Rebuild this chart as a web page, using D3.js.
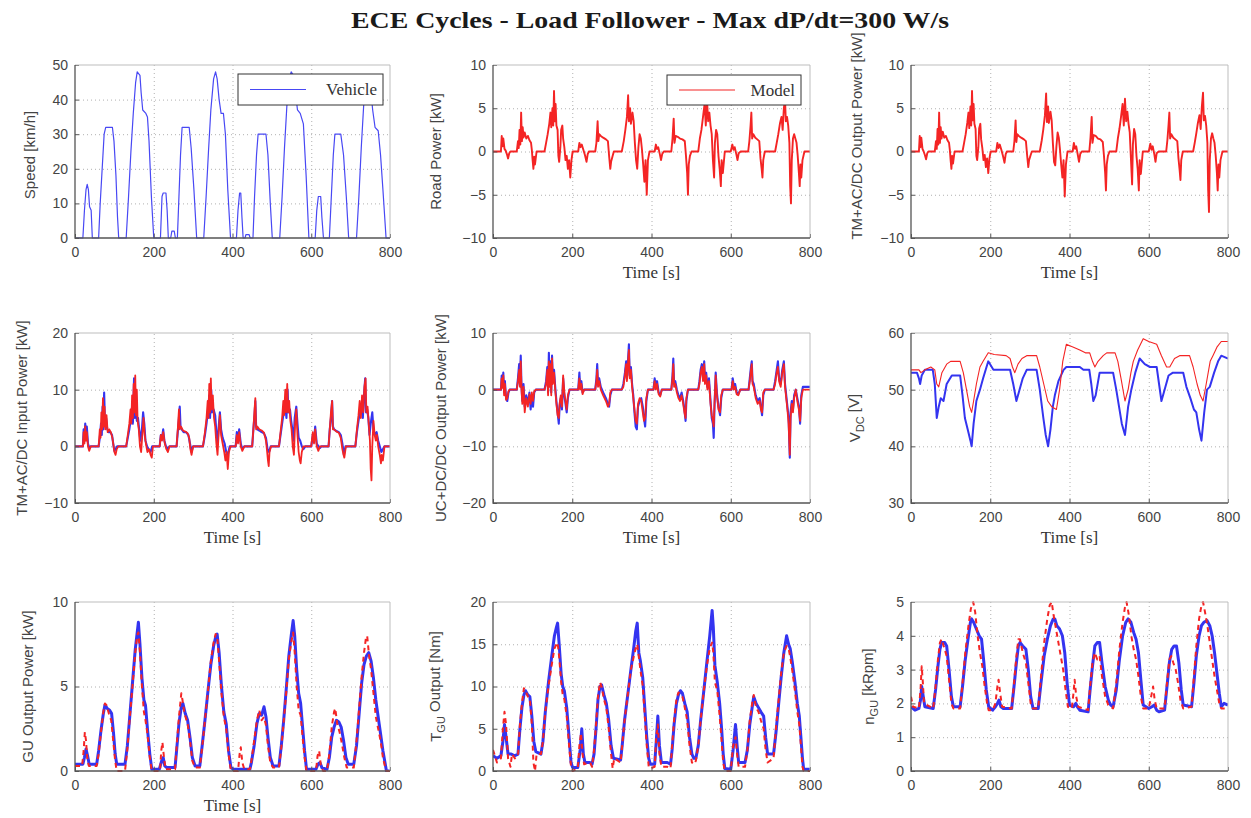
<!DOCTYPE html>
<html>
<head>
<meta charset="utf-8">
<title>ECE Cycles - Load Follower</title>
<script src="https://cdn.jsdelivr.net/npm/d3@7"></script>
<style>
body { margin: 0; background: #fff; }
.tick text { font-family: "Liberation Sans", Arial, sans-serif; font-size: 14px; fill: #444; }
.tick line { stroke: #555; }
.domain { display: none; }
.grid line { stroke: #b0b0b0; stroke-dasharray: 1,3; }
.ylab { font-family: "Liberation Sans", Arial, sans-serif; font-size: 15px; fill: #444; text-anchor: middle; }
.xlab { font-family: "Liberation Serif", "Times New Roman", serif; font-size: 17px; fill: #333; text-anchor: middle; }
.title { font-family: "Liberation Serif", "Times New Roman", serif; font-size: 23px; font-weight: bold; fill: #1a1a1a; text-anchor: middle; }
.legtext { font-family: "Liberation Serif", "Times New Roman", serif; font-size: 17px; fill: #333; }
.trace { fill: none; stroke-linejoin: round; }
</style>
</head>
<body>
<svg id="chart" width="1251" height="818"></svg>
<script>
var BLUE = "#3434f0";
var RED = "#f42424";

var timeTicks = [0, 200, 400, 600, 800];

// vehicle speed [km/h]
var speedVehicle = [[0,0],[20,0],[24,8],[28,14],[31,15.5],[34,14],[37,9],[41,8],[44,0],[60,0],[64,10],[69,20],[74,30],[78,32],[95,32],[99,28],[104,18],[108,6],[111,0],[130,0],[136,12],[142,25],[148,36],[154,45],[158,48],[165,47],[168,42],[172,37],[180,36],[184,35],[188,28],[194,12],[200,0],[217,0],[221,12],[224,13],[231,13],[234,8],[237,0],[243,0],[246,2],[252,2],[255,0],[260,0],[264,12],[268,24],[272,32],[290,32],[295,26],[302,14],[309,0],[327,0],[333,12],[339,25],[345,37],[352,46],[357,48],[361,46],[366,40],[371,36],[377,36],[382,30],[388,14],[395,0],[410,0],[414,8],[418,13],[421,13],[424,6],[427,0],[432,0],[434,1],[442,1],[445,0],[452,0],[456,12],[461,24],[465,30],[485,30],[490,24],[496,10],[501,0],[520,0],[526,12],[532,26],[538,38],[544,46],[549,48],[555,47],[560,42],[565,37],[572,36],[580,33],[587,18],[594,0],[610,0],[614,8],[618,12],[624,12],[627,6],[631,0],[646,0],[651,12],[656,24],[660,30],[675,30],[682,24],[689,12],[695,0],[715,0],[721,12],[727,26],[733,38],[739,45],[745,47],[750,44],[756,37],[762,32],[770,31],[776,24],[782,14],[790,0],[800,0]];

// road power [kW] (model)
var roadModel = [[0,0],[20,0],[22,1.8],[24,0.6],[26,1.5],[29,0.3],[32,0.1],[35,-0.3],[38,-0.8],[41,-0.2],[44,0],[60,0],[63,1.2],[65,0.4],[67,2.5],[69,0.8],[71,4.5],[73,1.2],[75,2.8],[77,1.6],[80,2.2],[84,1.5],[88,1.8],[92,1.3],[96,1.0],[98,0.2],[100,-1.0],[102,-2.0],[104,-0.6],[106,-1.5],[110,0],[130,0],[134,1.0],[138,2.0],[142,3.2],[145,4.5],[147,2.8],[150,5.0],[152,3.0],[154,7.0],[156,3.5],[158,5.5],[160,3.0],[163,2.5],[165,-0.5],[167,-1.2],[170,0.5],[172,2.5],[175,3.0],[177,1.5],[180,0.5],[183,-1.0],[186,-0.5],[189,-2.0],[192,-1.0],[195,-3.0],[198,-1.0],[201,0],[215,0],[218,1.0],[221,0.5],[224,0.8],[228,0.2],[232,-0.4],[236,-1.2],[239,-0.3],[242,0],[258,0],[261,1.0],[264,3.5],[266,1.2],[268,2.0],[272,1.8],[278,1.6],[285,1.4],[290,1.2],[293,-0.5],[296,-2.0],[298,-1.2],[302,-0.5],[305,0],[325,0],[330,1.2],[334,2.5],[338,4.0],[341,6.5],[343,3.5],[346,5.0],[348,3.2],[352,4.5],[355,3.5],[358,1.0],[361,-1.0],[364,-2.0],[367,0.5],[370,2.0],[373,1.5],[376,0.2],[379,-1.5],[382,-3.5],[385,-1.0],[388,-5.0],[391,-1.0],[395,0],[408,0],[411,0.8],[414,0.3],[417,0.5],[421,-0.3],[424,-1.0],[427,-0.3],[431,0],[450,0],[453,1.5],[456,3.8],[458,1.0],[461,1.8],[466,1.7],[472,1.5],[478,1.4],[484,1.2],[487,-0.5],[490,-2.5],[492,-5.0],[494,-1.5],[497,-0.5],[501,0],[518,0],[522,1.5],[526,2.5],[530,4.0],[534,5.5],[537,3.0],[540,6.0],[543,3.5],[546,4.5],[549,3.0],[552,2.0],[555,-1.0],[558,-3.0],[560,1.0],[563,2.5],[566,2.0],[569,-0.5],[572,-2.0],[575,-4.0],[577,-1.0],[580,-2.5],[585,0],[600,0],[604,0.8],[607,0.2],[610,0.5],[614,-0.3],[617,-1.0],[620,-0.2],[625,0],[644,0],[647,1.2],[650,3.0],[652,4.5],[654,1.5],[657,2.0],[662,1.6],[667,1.4],[672,1.2],[675,-0.8],[678,-2.0],[680,-3.0],[682,-1.0],[686,0],[712,0],[716,1.0],[720,2.0],[724,3.2],[728,4.0],[731,2.5],[734,5.0],[737,6.0],[739,3.5],[742,4.0],[745,3.0],[748,1.0],[750,-4.0],[752,-6.0],[754,-1.0],[757,1.5],[760,2.0],[763,1.5],[766,1.0],[769,-0.5],[772,-2.5],[774,-4.0],[776,-1.5],[778,-3.0],[781,-1.0],[786,0],[800,0]];

// TM + AC/DC output power [kW] (model)
var tmOutModel = [[0,0],[20,0],[22,1.8],[24,0.5],[26,1.6],[29,0.3],[32,0],[35,-0.4],[38,-0.9],[41,-0.2],[44,0],[60,0],[63,1.2],[65,0.3],[67,2.6],[69,0.8],[71,4.5],[73,1.0],[75,2.8],[77,1.5],[80,2.3],[84,1.6],[88,1.8],[92,1.3],[96,1.0],[98,0.2],[100,-1.0],[102,-2.0],[104,-0.5],[106,-1.4],[110,0],[130,0],[134,1.0],[138,2.0],[142,3.3],[145,4.5],[147,2.7],[150,5.2],[152,3.0],[154,7.0],[156,3.6],[158,5.5],[160,3.2],[163,2.6],[165,-0.5],[167,-1.0],[170,0.5],[172,2.7],[175,3.2],[177,1.4],[180,0.4],[183,-1.0],[186,-0.4],[189,-1.8],[192,-0.8],[195,-2.5],[198,-0.8],[201,0],[215,0],[218,1.0],[221,0.4],[224,0.8],[228,0.2],[232,-0.5],[236,-1.3],[239,-0.3],[242,0],[258,0],[261,1.2],[264,3.6],[266,1.1],[268,2.0],[272,1.8],[278,1.6],[285,1.4],[290,1.2],[293,-0.4],[296,-1.8],[298,-1.0],[302,-0.4],[305,0],[325,0],[330,1.3],[334,2.6],[338,4.2],[341,6.7],[343,3.4],[346,5.2],[348,3.3],[352,4.6],[355,3.6],[358,1.0],[361,-1.2],[364,-1.6],[367,0.6],[370,2.2],[373,1.6],[376,0.2],[379,-1.5],[382,-3.0],[385,-1.0],[388,-5.2],[391,-1.5],[395,0],[408,0],[411,1.0],[414,0.3],[417,0.6],[421,-0.4],[424,-1.2],[427,-0.3],[431,0],[450,0],[453,1.6],[456,4.0],[458,1.0],[461,1.9],[466,1.8],[472,1.5],[478,1.4],[484,1.1],[487,-0.5],[490,-2.5],[492,-4.5],[494,-1.5],[497,-0.5],[501,0],[518,0],[522,1.5],[526,2.6],[530,4.0],[534,5.5],[537,3.0],[540,6.1],[543,3.5],[546,4.6],[549,3.2],[552,2.2],[555,-0.8],[558,-3.8],[560,0.8],[563,2.6],[566,2.0],[569,-0.5],[572,-2.0],[575,-4.5],[577,-1.0],[580,-2.6],[585,0],[600,0],[604,0.9],[607,0.2],[610,0.6],[614,-0.3],[617,-1.2],[620,-0.2],[625,0],[644,0],[647,1.3],[650,3.1],[652,4.5],[654,1.5],[657,2.0],[662,1.6],[667,1.4],[672,1.2],[675,-0.8],[678,-2.2],[680,-3.3],[682,-1.0],[686,0],[712,0],[716,1.0],[720,2.1],[724,3.3],[728,4.2],[731,2.6],[734,5.2],[737,6.8],[739,3.6],[742,4.1],[745,3.0],[748,1.0],[750,-4.5],[752,-7.0],[754,-1.0],[757,1.5],[760,2.1],[763,1.5],[766,1.0],[769,-0.5],[772,-2.5],[774,-4.5],[776,-1.5],[778,-3.0],[781,-1.0],[786,0],[800,0]];

// TM + AC/DC input power [kW]
var tmInVehicle = [[0,0],[20,0],[22,3.0],[24,1.0],[26,4.0],[28,2.0],[30,3.5],[33,0.5],[36,-0.3],[40,0],[60,0],[63,1.5],[66,4.0],[68,2.0],[70,7.0],[72,3.0],[74,9.5],[76,4.5],[79,5.0],[82,3.0],[86,2.5],[90,2.5],[94,2.0],[97,0.5],[100,-0.8],[103,-0.5],[107,0],[130,0],[134,1.5],[138,3.0],[142,5.0],[145,7.0],[147,4.0],[150,12.0],[152,5.0],[155,9.0],[157,4.5],[160,5.0],[163,3.0],[166,1.0],[170,3.0],[173,6.0],[176,4.0],[179,1.0],[183,0],[187,-0.5],[192,-1.0],[196,0],[215,0],[218,2.0],[221,1.5],[224,3.0],[227,1.0],[231,0],[235,-0.5],[240,0],[258,0],[261,2.5],[264,5.0],[266,7.0],[268,3.5],[271,3.0],[276,2.5],[282,2.5],[288,2.0],[292,0.5],[296,-1.0],[300,0],[325,0],[330,2.0],[334,4.0],[338,6.5],[341,9.0],[343,5.0],[346,10.0],[348,6.0],[352,6.5],[356,5.5],[359,2.5],[362,0.5],[365,3.5],[368,6.0],[371,3.0],[375,1.5],[380,0.5],[384,-1.0],[388,-1.5],[393,0],[408,0],[411,2.5],[414,1.0],[417,3.0],[421,0.5],[425,-0.5],[430,0],[450,0],[453,3.0],[456,5.5],[458,8.0],[460,3.5],[463,3.0],[468,2.8],[474,2.5],[480,2.3],[485,1.5],[489,-0.5],[493,-1.0],[497,0],[518,0],[522,2.0],[526,4.0],[530,6.0],[534,7.5],[537,5.0],[540,10.0],[542,6.0],[546,6.5],[549,4.5],[552,3.0],[555,1.0],[558,5.0],[562,7.0],[565,4.0],[568,1.5],[572,1.0],[576,0],[580,-0.5],[585,0],[600,0],[604,2.0],[607,1.0],[610,3.5],[614,0.5],[618,0],[622,-0.3],[626,0],[644,0],[647,3.0],[650,5.0],[653,8.0],[655,3.5],[658,3.0],[664,2.7],[670,2.5],[675,2.0],[679,0.5],[683,-1.5],[687,0],[712,0],[716,2.5],[720,4.5],[724,6.5],[728,7.5],[731,5.0],[734,9.0],[737,12.0],[739,6.0],[742,6.5],[745,5.0],[748,2.0],[751,4.0],[755,6.0],[758,3.0],[762,2.0],[766,2.5],[770,1.0],[774,0],[778,-1.0],[782,-0.5],[786,0],[800,0]];
var tmInModel = [[0,0],[20,0],[22,2.5],[24,0.5],[26,3.5],[28,1.0],[30,2.5],[33,0],[36,-0.8],[40,0],[60,0],[63,3.0],[65,1.5],[67,6.0],[69,3.0],[71,8.5],[73,3.5],[75,7.0],[77,3.0],[80,5.5],[83,2.5],[87,3.0],[91,2.5],[95,1.5],[98,0],[100,-1.0],[103,-1.5],[106,-0.5],[110,0],[130,0],[134,2.0],[138,4.0],[141,6.5],[143,4.0],[145,9.0],[147,5.0],[149,11.0],[151,6.0],[153,12.5],[155,5.5],[157,10.0],[159,4.5],[162,3.0],[165,0],[168,-1.0],[171,2.0],[174,5.0],[177,2.0],[180,0.5],[184,-1.0],[188,-0.5],[192,-1.5],[195,-2.0],[198,0],[215,0],[218,2.0],[221,1.0],[224,2.5],[228,0.5],[232,-0.5],[236,-1.0],[240,0],[258,0],[261,3.0],[264,6.5],[266,3.0],[269,3.5],[274,2.8],[280,2.6],[286,2.3],[290,1.5],[293,-0.5],[296,-1.5],[300,0],[325,0],[330,2.5],[334,5.0],[337,8.0],[339,5.0],[341,11.0],[343,6.0],[345,12.0],[347,6.5],[350,9.0],[353,5.0],[356,3.5],[359,0.5],[362,-1.5],[365,2.5],[368,5.5],[371,2.0],[375,0.5],[379,-1.0],[382,-2.5],[385,-1.0],[388,-4.0],[391,-1.0],[395,0],[408,0],[411,2.0],[414,0.5],[417,2.5],[421,0],[425,-0.8],[430,0],[450,0],[453,3.0],[456,6.5],[458,8.5],[460,3.0],[463,3.5],[468,3.0],[474,2.8],[480,2.4],[485,1.0],[488,-1.0],[490,-2.5],[492,-3.5],[494,-1.0],[498,0],[518,0],[522,2.5],[526,5.0],[529,8.0],[531,5.5],[534,10.0],[536,6.0],[539,11.0],[541,6.0],[544,8.0],[547,4.5],[550,3.0],[553,0],[556,-1.5],[559,4.0],[562,6.5],[565,2.0],[568,-1.0],[571,-2.5],[573,-3.0],[576,-1.0],[580,0],[600,0],[604,2.5],[607,0.5],[610,3.0],[614,0],[618,-0.8],[622,0],[644,0],[647,3.0],[650,6.0],[653,8.0],[655,3.0],[658,3.0],[664,2.6],[670,2.4],[675,1.5],[679,-0.5],[682,-1.5],[684,-2.0],[688,0],[712,0],[716,3.0],[720,5.5],[723,8.0],[726,5.0],[729,9.0],[732,6.0],[735,10.5],[738,12.0],[740,6.0],[743,7.0],[746,4.0],[749,1.0],[751,-4.0],[753,-6.0],[755,0],[758,4.5],[761,2.0],[764,1.0],[767,2.0],[770,0],[774,-1.5],[777,-3.0],[779,-1.5],[782,-2.5],[786,0],[800,0]];

// UC + DC/DC output power [kW]
var ucOutVehicle = [[0,0],[20,0],[22,2.5],[24,0.5],[26,3.0],[28,-0.5],[30,1.5],[33,-1.5],[36,-2.0],[39,-0.5],[42,0],[60,0],[63,2.0],[66,4.5],[68,1.0],[70,6.0],[72,0.5],[74,-2.0],[77,1.0],[80,-3.0],[84,-1.0],[88,-2.5],[92,-0.5],[95,-3.5],[98,-1.0],[101,-3.0],[104,-0.5],[108,0],[130,0],[134,1.5],[137,4.0],[139,-0.5],[141,6.5],[143,1.0],[145,5.0],[147,-0.5],[149,6.0],[151,2.0],[154,3.5],[157,0.5],[160,-2.0],[163,-4.0],[166,-6.0],[168,-3.0],[171,-1.5],[174,-3.5],[177,2.0],[180,-1.0],[183,-2.5],[186,-4.0],[189,-1.5],[193,0],[215,0],[218,3.0],[220,0.5],[223,1.5],[226,-0.5],[230,0],[258,0],[261,2.0],[263,4.5],[265,1.0],[268,2.0],[272,0.5],[278,-0.5],[285,-1.5],[290,-2.5],[293,-3.0],[296,-1.0],[300,0],[325,0],[329,1.0],[333,3.0],[336,5.0],[338,2.0],[341,5.5],[343,8.0],[345,2.5],[348,4.0],[351,1.0],[354,-1.0],[357,-4.0],[360,-6.5],[363,-7.0],[366,-3.0],[370,-2.0],[374,-1.5],[378,-3.0],[381,-5.0],[384,-6.5],[387,-2.0],[391,0],[405,0],[408,2.0],[411,0.5],[414,1.5],[418,-0.5],[422,-1.0],[426,0],[450,0],[453,2.5],[455,5.5],[457,1.0],[460,1.5],[464,0],[468,-1.0],[472,-1.5],[476,-0.5],[480,-2.0],[483,-3.5],[486,-5.5],[488,-2.0],[492,0],[518,0],[521,1.5],[524,3.5],[527,4.5],[530,2.0],[533,5.0],[535,1.5],[538,3.0],[541,0.5],[545,2.0],[549,-2.0],[552,-5.0],[555,-6.0],[557,-8.5],[559,-3.0],[562,3.0],[565,-0.5],[569,-3.0],[573,-4.5],[576,-1.5],[580,0],[602,0],[605,2.0],[608,0.5],[611,1.0],[615,-0.5],[619,-0.8],[624,0],[645,0],[648,2.0],[651,4.0],[653,5.0],[655,1.5],[658,1.0],[663,-1.0],[668,-2.0],[673,-1.5],[676,-3.0],[679,-4.5],[682,-1.0],[686,0],[708,0],[712,1.5],[716,3.5],[719,5.0],[722,2.0],[726,1.0],[730,3.5],[734,5.0],[737,1.0],[740,-1.0],[743,-3.0],[746,-5.0],[749,-12.0],[751,-4.0],[754,-2.0],[757,-3.5],[760,-1.0],[764,0],[768,-1.5],[772,-3.0],[775,-6.0],[778,-1.0],[782,0.5],[790,0.5],[800,0.5]];
var ucOutModel = [[0,0],[20,0],[22,2.0],[24,0.3],[26,2.5],[28,-1.0],[30,1.0],[33,-1.8],[36,-1.5],[39,-0.3],[42,0],[60,0],[63,1.5],[66,3.5],[68,0.5],[70,5.0],[72,0],[74,-2.5],[77,0.5],[80,-4.0],[84,-1.5],[88,-3.0],[92,-0.8],[95,-2.5],[98,-0.5],[101,-2.0],[104,-0.3],[108,0],[130,0],[134,1.0],[137,3.5],[139,-1.0],[141,5.0],[143,0.5],[145,4.5],[147,-1.0],[149,5.5],[151,1.0],[154,3.0],[157,0],[160,-2.5],[163,-4.5],[166,-5.0],[168,-2.5],[171,-1.0],[174,-3.0],[177,2.5],[180,-0.5],[183,-2.0],[186,-3.5],[189,-1.0],[193,0],[215,0],[218,2.0],[220,0],[223,1.0],[226,-0.8],[230,0],[258,0],[261,1.5],[263,3.5],[265,0.5],[268,1.5],[272,0],[278,-1.0],[285,-2.0],[290,-3.0],[293,-2.5],[296,-0.5],[300,0],[325,0],[329,0.5],[333,2.5],[336,4.5],[338,1.5],[341,5.0],[343,7.0],[345,2.0],[348,3.5],[351,0.5],[354,-1.5],[357,-3.5],[360,-5.5],[363,-6.0],[366,-2.5],[370,-1.5],[374,-2.0],[378,-4.0],[381,-5.5],[384,-5.0],[387,-1.5],[391,0],[405,0],[408,1.5],[411,0],[414,1.0],[418,-0.8],[422,-1.2],[426,0],[450,0],[453,2.0],[455,4.5],[457,0.5],[460,1.0],[464,-0.5],[468,-1.5],[472,-2.0],[476,-1.0],[480,-2.5],[483,-4.0],[486,-5.0],[488,-1.5],[492,0],[518,0],[521,1.0],[524,3.0],[527,4.0],[530,1.5],[533,4.5],[535,1.0],[538,2.5],[541,0],[545,1.5],[549,-2.5],[552,-4.5],[555,-5.5],[557,-6.5],[559,-2.5],[562,2.5],[565,-1.0],[569,-3.5],[573,-4.0],[576,-1.0],[580,0],[602,0],[605,1.5],[608,0],[611,0.5],[615,-0.8],[619,-1.0],[624,0],[645,0],[648,1.5],[651,3.5],[653,4.5],[655,1.0],[658,0.5],[663,-1.5],[668,-2.5],[673,-2.0],[676,-3.5],[679,-4.0],[682,-0.5],[686,0],[708,0],[712,1.0],[716,3.0],[719,4.0],[722,1.5],[726,0.5],[730,3.0],[734,4.5],[737,0.5],[740,-1.5],[743,-3.5],[746,-6.0],[749,-11.5],[751,-5.0],[754,-2.5],[757,-4.0],[760,-1.5],[764,0],[768,-2.0],[772,-3.5],[775,-5.5],[778,-1.5],[782,0],[790,0],[800,0]];

// DC bus voltage [V]
var vdcVehicle = [[0,53],[15,53],[20,52],[23,51],[27,52.5],[35,53.5],[55,53.5],[60,51],[65,45],[70,47],[75,48.5],[82,48],[90,51],[103,52.5],[124,52.5],[130,49],[136,45],[143,43],[150,41],[153,40],[158,44],[165,48],[174,50],[182,52],[195,55],[208,53.5],[250,53.5],[258,51],[266,48],[272,49.5],[282,52],[292,53.5],[317,53.5],[325,50],[334,45],[340,42],[346,40],[352,43],[358,47],[363,49],[372,51.5],[385,53.5],[392,54],[426,54],[435,53.5],[450,53.5],[455,51],[460,48],[466,49],[476,53],[510,53],[518,50],[525,47],[532,44],[540,42],[548,47],[556,50],[566,53],[577,55.5],[590,54.5],[603,54],[620,54],[626,51],[632,48],[640,50],[650,52.5],[661,53],[687,53],[695,50.5],[705,48.5],[714,46.5],[720,46],[727,43],[733,41],[740,46],[747,50],[754,50.5],[765,53],[775,55],[783,56],[800,55.5]];
var vdcModel = [[0,53.5],[20,53.5],[25,53],[35,53.5],[50,54],[60,53.5],[65,51],[70,50.5],[78,53],[90,54.5],[100,55],[124,55],[132,53],[140,50],[148,47],[153,46],[158,48],[165,51],[174,54],[182,55],[195,56.5],[210,56.2],[240,56],[250,55.5],[256,54],[262,53],[270,54.5],[280,55.5],[292,56],[317,56],[325,54],[335,51],[345,48],[355,47],[367,46.5],[375,50],[383,55],[392,58],[410,57.5],[426,57],[440,56.5],[451,56.5],[458,55],[464,54],[472,55],[485,56],[494,56.5],[515,56.5],[522,55],[530,52],[540,48],[548,50],[555,53],[561,55],[572,57],[586,59],[600,58.5],[620,58],[632,56],[645,54],[653,54],[665,55.5],[678,56],[703,56],[712,54],[722,51],[730,49],[737,48],[745,51],[755,55],[762,56],[772,57.5],[783,58.5],[800,58.5]];

// GU output power [kW]
var guPowVehicle = [[0,0.4],[20,0.4],[24,0.8],[28,1.3],[32,0.9],[36,0.4],[55,0.4],[60,1.2],[66,2.4],[72,3.4],[76,3.9],[82,3.7],[88,3.6],[93,3.4],[98,2.2],[102,1.0],[106,0.4],[127,0.4],[133,1.5],[140,3.5],[147,5.5],[153,7.2],[158,8.2],[161,8.8],[165,7.5],[170,5.5],[175,4.2],[179,3.9],[184,2.5],[190,1.0],[195,0.1],[214,0.1],[220,0.6],[224,0.8],[228,0.3],[233,0.2],[254,0.2],[258,1.2],[264,2.8],[270,3.8],[274,4.0],[280,3.4],[286,3.0],[292,2.0],[298,0.8],[305,0.3],[317,0.3],[323,1.5],[330,3.0],[338,4.8],[345,6.3],[352,7.4],[357,7.9],[361,8.1],[366,7.0],[372,5.0],[378,3.5],[384,2.8],[390,1.2],[396,0.2],[402,0.1],[444,0.1],[448,0.5],[455,1.5],[462,2.8],[468,3.4],[474,3.3],[480,3.8],[485,3.2],[490,2.0],[496,0.8],[503,0.3],[518,0.3],[524,1.5],[530,3.0],[537,5.0],[543,6.8],[549,8.0],[554,8.9],[558,8.0],[563,6.0],[568,4.6],[573,4.0],[578,2.6],[583,1.2],[588,0.1],[612,0.1],[617,0.4],[622,0.5],[627,0.2],[640,0.1],[646,0.8],[652,2.0],[658,2.6],[664,3.0],[670,2.9],[676,2.6],[682,1.8],[688,0.8],[694,0.4],[708,0.4],[715,1.5],[722,3.5],[728,5.2],[734,6.3],[740,6.8],[746,7.0],[752,6.5],[758,5.5],[764,4.2],[770,3.2],[776,2.2],[782,1.2],[788,0.4],[791,0],[800,0]];
var guPowModel = [[0,0.3],[18,0.3],[22,1.2],[25,2.3],[28,1.8],[31,0.8],[35,0.3],[55,0.3],[60,1.0],[66,2.3],[72,3.5],[76,4.0],[80,3.9],[86,3.4],[92,3.0],[97,1.8],[102,0.6],[106,0],[127,0],[133,1.3],[140,3.4],[147,5.3],[153,7.0],[158,8.0],[161,8.2],[165,7.0],[170,5.0],[175,3.5],[179,3.0],[184,2.2],[190,0.8],[195,0],[216,0],[219,1.2],[222,1.7],[226,0.8],[230,0.1],[254,0.1],[258,1.4],[264,3.2],[270,4.6],[273,4.2],[278,3.4],[286,2.8],[292,1.8],[298,0.6],[305,0.2],[317,0.2],[323,1.4],[330,3.0],[338,4.8],[345,6.5],[352,7.6],[357,8.1],[361,8.0],[366,6.5],[372,4.6],[378,3.2],[384,2.5],[390,1.0],[396,0],[414,0],[418,1.0],[421,1.4],[425,0.5],[430,0.1],[444,0.1],[448,0.6],[455,1.8],[462,3.0],[468,3.6],[474,3.0],[480,3.2],[485,2.7],[490,1.5],[496,0.5],[503,0.2],[518,0.2],[524,1.4],[530,2.9],[537,4.8],[543,6.6],[549,7.6],[554,8.2],[558,7.0],[563,5.0],[568,3.6],[573,3.3],[578,2.0],[583,0.8],[588,0],[612,0],[616,0.9],[620,1.2],[624,0.4],[630,0],[640,0],[646,1.0],[652,2.6],[658,3.5],[661,3.7],[666,2.8],[672,2.3],[678,1.6],[684,0.8],[690,0.2],[708,0.2],[715,1.8],[722,3.8],[728,5.6],[734,7.0],[739,7.9],[742,8.0],[747,6.8],[752,6.0],[758,4.6],[764,3.2],[770,2.5],[776,1.8],[782,0.8],[788,0.2],[791,0],[800,0]];

// GU output torque [Nm]
var tguVehicle = [[0,1.8],[10,1.5],[20,1.8],[25,3.5],[29,5.5],[33,4.0],[38,2.0],[46,2.0],[55,1.8],[63,2.0],[68,5.0],[73,7.5],[78,9.0],[82,9.5],[88,9.0],[93,8.8],[98,6.5],[103,3.5],[108,2.3],[121,2.0],[126,3.5],[132,7.0],[140,10.5],[148,13.5],[155,16.0],[160,17.0],[163,17.5],[167,15.0],[172,11.5],[176,10.0],[180,9.5],[186,7.5],[192,4.0],[197,1.0],[201,0.4],[214,0.4],[220,2.5],[224,5.0],[228,2.0],[232,1.0],[245,1.0],[250,0.8],[255,2.0],[260,5.0],[265,8.5],[270,10.0],[274,10.2],[280,9.0],[286,8.0],[292,6.0],[298,3.0],[304,1.5],[322,1.3],[326,3.0],[332,6.0],[340,9.0],[348,12.0],[355,14.5],[360,16.5],[364,17.5],[368,14.0],[372,13.0],[378,11.0],[383,7.5],[388,4.0],[393,1.5],[397,0.8],[408,0.8],[412,3.5],[416,6.5],[420,3.0],[425,1.0],[440,1.0],[448,0.8],[452,2.5],[457,5.5],[463,8.0],[468,9.0],[473,9.5],[478,9.2],[484,8.0],[490,7.0],[496,4.0],[502,2.0],[507,1.5],[512,1.5],[518,3.0],[524,6.0],[532,9.5],[540,13.0],[547,16.0],[551,18.0],[553,19.0],[556,17.0],[560,12.5],[566,10.5],[572,8.0],[577,5.0],[581,2.0],[585,0.3],[600,0.2],[606,2.5],[612,5.5],[616,3.0],[620,1.0],[636,1.0],[642,2.5],[648,5.5],[654,7.5],[658,8.8],[664,8.0],[670,7.5],[676,7.0],[683,6.5],[688,4.0],[693,2.0],[708,2.0],[714,4.5],[720,7.5],[727,11.0],[734,14.0],[741,16.0],[746,15.0],[750,14.5],[755,13.0],[762,10.5],[768,8.0],[773,6.5],[777,4.0],[781,1.5],[784,0.2],[800,0.2]];
var tguModel = [[0,2.5],[10,1.0],[20,1.5],[25,5.0],[29,7.0],[33,5.5],[38,1.5],[44,0.5],[48,2.0],[55,1.5],[63,1.8],[68,5.5],[73,8.0],[78,9.8],[82,9.5],[88,8.8],[93,8.5],[98,5.5],[102,1.0],[106,0],[110,2.0],[121,2.0],[126,3.5],[132,7.0],[140,10.0],[148,12.5],[155,14.5],[160,15.0],[163,15.2],[167,13.5],[172,10.5],[176,9.0],[180,8.5],[186,6.5],[192,3.0],[197,0.5],[201,0],[214,0.3],[218,3.0],[222,4.5],[226,2.0],[230,0.8],[245,1.0],[250,0.5],[255,2.5],[260,5.5],[265,8.8],[270,10.5],[274,10.0],[280,8.5],[286,7.5],[292,5.0],[298,2.0],[302,0.3],[306,1.5],[322,1.0],[326,3.0],[332,6.0],[340,9.0],[348,12.0],[355,13.5],[360,14.5],[364,15.0],[368,13.5],[372,12.0],[378,10.0],[383,6.5],[388,3.0],[393,0.5],[397,0.3],[408,0.5],[412,4.0],[416,5.5],[420,2.0],[425,0.5],[440,0.5],[448,0.3],[452,3.0],[457,6.0],[463,8.5],[468,9.3],[473,9.0],[478,8.8],[484,7.5],[490,6.0],[496,3.0],[502,1.0],[507,0.8],[512,1.2],[518,3.0],[524,6.0],[532,9.5],[540,12.5],[547,14.5],[551,15.0],[553,15.2],[556,14.0],[560,10.5],[566,9.5],[572,6.5],[577,3.5],[581,1.0],[585,0],[600,0],[606,3.0],[612,4.0],[616,2.0],[620,0.5],[636,0.5],[642,2.5],[648,6.0],[654,8.0],[658,9.0],[664,7.5],[670,7.0],[676,6.0],[683,5.0],[688,2.5],[693,1.0],[708,1.5],[714,5.0],[720,8.0],[727,11.5],[734,14.0],[741,14.8],[746,14.5],[750,13.5],[755,12.0],[762,9.5],[768,7.0],[773,5.5],[777,3.0],[781,0.5],[784,0],[800,0]];

// GU speed [kRpm]
var ngVehicle = [[0,1.9],[10,1.8],[20,1.85],[24,2.1],[27,2.5],[31,2.2],[35,1.9],[56,1.85],[62,2.4],[68,3.1],[73,3.6],[77,3.8],[85,3.8],[90,3.7],[96,3.0],[102,2.2],[107,1.9],[124,1.9],[130,2.5],[137,3.3],[145,4.0],[150,4.4],[153,4.5],[158,4.4],[165,4.2],[172,4.0],[178,3.9],[184,3.2],[190,2.4],[196,1.9],[206,1.8],[213,1.9],[218,2.0],[222,2.1],[227,1.9],[233,1.85],[254,1.85],[260,2.5],[266,3.2],[271,3.7],[275,3.8],[282,3.7],[290,3.6],[296,3.0],[302,2.2],[308,1.85],[321,1.85],[328,2.6],[336,3.4],[344,3.9],[352,4.3],[359,4.5],[363,4.5],[368,4.3],[375,4.2],[382,4.0],[388,3.5],[394,2.6],[400,1.95],[410,1.9],[416,2.0],[420,1.9],[426,1.8],[447,1.75],[452,2.4],[458,3.1],[464,3.7],[470,3.8],[476,3.8],[482,3.2],[490,2.5],[498,2.1],[504,1.95],[510,1.9],[518,2.4],[526,3.3],[534,4.0],[542,4.4],[548,4.5],[555,4.4],[562,4.1],[568,3.9],[574,3.5],[580,2.7],[586,1.95],[600,1.85],[608,1.9],[614,1.95],[620,1.8],[626,1.75],[640,1.8],[646,2.5],[652,3.2],[658,3.6],[664,3.7],[670,3.7],[676,3.2],[682,2.4],[687,1.95],[708,1.9],[714,2.6],[720,3.4],[727,4.0],[733,4.3],[739,4.4],[747,4.45],[754,4.3],[760,4.0],[766,3.5],[772,2.9],[778,2.3],[783,1.9],[790,2.0],[800,1.95]];
var ngModel = [[0,2.2],[5,1.9],[20,1.85],[24,2.4],[27,3.1],[30,2.6],[33,2.0],[56,1.85],[62,2.5],[68,3.3],[73,3.8],[77,3.9],[85,3.6],[90,3.4],[96,2.7],[102,2.0],[107,1.85],[124,1.85],[130,2.6],[137,3.5],[145,4.3],[151,4.8],[157,5.0],[162,4.7],[168,4.0],[174,3.5],[180,3.1],[186,2.5],[192,2.0],[196,1.8],[206,1.8],[213,2.0],[218,2.5],[221,2.7],[225,2.3],[230,1.9],[254,1.85],[260,2.6],[266,3.4],[271,3.9],[275,3.9],[282,3.5],[290,3.2],[296,2.6],[302,2.0],[308,1.85],[321,1.85],[328,2.8],[336,3.8],[344,4.5],[350,4.9],[355,5.0],[360,4.6],[366,4.2],[372,3.8],[378,3.4],[384,3.0],[390,2.4],[396,1.9],[406,1.85],[410,2.3],[413,2.7],[417,2.2],[422,1.9],[447,1.8],[452,2.5],[458,3.2],[464,3.5],[470,3.3],[476,3.4],[482,2.8],[490,2.2],[498,1.95],[510,1.85],[518,2.6],[526,3.6],[534,4.4],[540,4.85],[544,5.0],[550,4.6],[556,4.0],[562,3.6],[568,3.3],[574,2.8],[580,2.2],[586,1.85],[600,1.85],[606,2.2],[611,2.5],[615,2.1],[620,1.85],[640,1.85],[646,2.6],[652,3.3],[657,3.4],[662,3.2],[668,3.0],[674,2.6],[680,2.1],[687,1.85],[708,1.9],[714,2.8],[720,3.7],[727,4.5],[733,4.9],[737,5.0],[742,4.7],[748,4.3],[754,3.8],[760,3.3],[766,2.8],[772,2.4],[778,2.0],[783,1.85],[790,1.85],[800,1.85]];

var svg = d3.select("#chart");
var cols = [[75, 390], [493, 810], [911, 1228]];
var rows = [[65, 238], [333, 503], [602, 771]];

// label parts: [text, isSubscript]
var panels = [
  {c: 0, r: 0, dom: [0, 50], ticks: [0, 10, 20, 30, 40, 50], label: [["Speed [km/h]"]], lx: 30, ly: 155, time: false,
   series: [{d: speedVehicle, col: "#4848f4", w: 1.2}],
   legend: {text: "Vehicle", col: "#4848f4", box: [238, 74, 145, 31]}},
  {c: 1, r: 0, dom: [-10, 10], ticks: [-10, -5, 0, 5, 10], label: [["Road Power [kW]"]], lx: 436, time: true,
   series: [{d: roadModel, col: RED, w: 1.9}],
   legend: {text: "Model", col: RED, box: [667, 75, 134, 30]}},
  {c: 2, r: 0, dom: [-10, 10], ticks: [-10, -5, 0, 5, 10], label: [["TM+AC/DC Output Power [kW]"]], lx: 857, ly: 136, time: true,
   series: [{d: tmOutModel, col: RED, w: 1.9}]},
  {c: 0, r: 1, dom: [-10, 20], ticks: [-10, 0, 10, 20], label: [["TM+AC/DC Input Power [kW]"]], lx: 22, time: true,
   series: [{d: tmInVehicle, col: BLUE, w: 2.1}, {d: tmInModel, col: RED, w: 1.8}]},
  {c: 1, r: 1, dom: [-20, 10], ticks: [-20, -10, 0, 10], label: [["UC+DC/DC Output Power [kW]"]], lx: 441, time: true,
   series: [{d: ucOutVehicle, col: BLUE, w: 2.1}, {d: ucOutModel, col: RED, w: 1.8}]},
  {c: 2, r: 1, dom: [30, 60], ticks: [30, 40, 50, 60], label: [["V"], ["DC", true], [" [V]"]], lx: 855, time: true,
   series: [{d: vdcVehicle, col: BLUE, w: 2.0}, {d: vdcModel, col: RED, w: 1.1}]},
  {c: 0, r: 2, dom: [0, 10], ticks: [0, 5, 10], label: [["GU Output Power [kW]"]], lx: 28, time: true,
   series: [{d: guPowVehicle, col: BLUE, w: 3.0}, {d: guPowModel, col: RED, w: 2.0, dash: "5,4"}]},
  {c: 1, r: 2, dom: [0, 20], ticks: [0, 5, 10, 15, 20], label: [["T"], ["GU", true], [" Output [Nm]"]], lx: 436, time: false,
   series: [{d: tguVehicle, col: BLUE, w: 3.0}, {d: tguModel, col: RED, w: 2.0, dash: "5,4"}]},
  {c: 2, r: 2, dom: [0, 5], ticks: [0, 1, 2, 3, 4, 5], label: [["n"], ["GU", true], [" [kRpm]"]], lx: 869, time: false,
   series: [{d: ngVehicle, col: BLUE, w: 3.0}, {d: ngModel, col: RED, w: 2.0, dash: "5,4"}]}
];

svg.append("text")
  .attr("class", "title")
  .attr("x", 650).attr("y", 28)
  .attr("textLength", 598)
  .attr("lengthAdjust", "spacingAndGlyphs")
  .text("ECE Cycles - Load Follower - Max dP/dt=300 W/s");

panels.forEach(function(p, i) {
  var xr = cols[p.c], yr = rows[p.r];
  var x = d3.scaleLinear().domain([0, 800]).range(xr);
  var y = d3.scaleLinear().domain(p.dom).range([yr[1], yr[0]]);
  var g = svg.append("g");

  // dotted grid
  g.append("g").attr("class", "grid")
    .attr("transform", `translate(0, ${yr[1]})`)
    .call(d3.axisBottom(x).tickValues(timeTicks.slice(1, -1)).tickSize(-(yr[1] - yr[0])).tickFormat(""));
  g.append("g").attr("class", "grid")
    .attr("transform", `translate(${xr[0]}, 0)`)
    .call(d3.axisLeft(y).tickValues(p.ticks.slice(1, -1)).tickSize(-(xr[1] - xr[0])).tickFormat(""));

  // traces
  var clipId = "clip" + i;
  g.append("clipPath").attr("id", clipId).append("rect")
    .attr("x", xr[0]).attr("y", yr[0] - 1)
    .attr("width", xr[1] - xr[0]).attr("height", yr[1] - yr[0] + 2);
  var line = d3.line().x(d => x(d[0])).y(d => y(d[1]));
  p.series.forEach(function(s) {
    g.append("path")
      .attr("class", "trace")
      .attr("clip-path", `url(#${clipId})`)
      .attr("d", line(s.d))
      .style("stroke", s.col)
      .style("stroke-width", s.w)
      .style("stroke-dasharray", s.dash || null);
  });

  // axes with inward ticks
  g.append("g")
    .attr("transform", `translate(0, ${yr[1]})`)
    .call(d3.axisBottom(x).tickValues(timeTicks).tickSizeInner(-4).tickSizeOuter(0).tickPadding(9));
  g.append("g")
    .attr("transform", `translate(${xr[0]}, 0)`)
    .call(d3.axisLeft(y).tickValues(p.ticks).tickFormat(d3.format("d"))
      .tickSizeInner(-4).tickSizeOuter(0).tickPadding(7));

  // box
  g.append("path")
    .attr("d", `M${xr[0]},${yr[0]}H${xr[1]}V${yr[1]}`)
    .style("fill", "none").style("stroke", "#bdbdbd").style("stroke-width", 1);
  g.append("path")
    .attr("d", `M${xr[0]},${yr[0]}V${yr[1]}H${xr[1]}`)
    .style("fill", "none").style("stroke", "#555").style("stroke-width", 1.3);

  // y label
  var ly = p.ly || (yr[0] + yr[1]) / 2;
  var t = g.append("text").attr("class", "ylab")
    .attr("transform", `translate(${p.lx}, ${ly}) rotate(-90)`)
    .attr("dy", "0.35em");
  p.label.forEach(function(part, k) {
    var ts = t.append("tspan").text(part[0]);
    if (part[1]) ts.attr("dy", "0.3em").style("font-size", "11px");
    else if (k > 0) ts.attr("dy", "-0.3em");
  });

  if (p.time) {
    g.append("text").attr("class", "xlab")
      .attr("x", (xr[0] + xr[1]) / 2).attr("y", yr[1] + 40)
      .text("Time [s]");
  }

  if (p.legend) {
    var b = p.legend.box;
    g.append("rect")
      .attr("x", b[0]).attr("y", b[1]).attr("width", b[2]).attr("height", b[3])
      .style("fill", "#fff").style("stroke", "#333").style("stroke-width", 1);
    g.append("line")
      .attr("x1", b[0] + 12).attr("x2", b[0] + 68)
      .attr("y1", b[1] + b[3] / 2).attr("y2", b[1] + b[3] / 2)
      .style("stroke", p.legend.col).style("stroke-width", 1.2);
    g.append("text").attr("class", "legtext")
      .attr("x", b[0] + b[2] - 6).attr("y", b[1] + b[3] / 2)
      .attr("dy", "0.35em").attr("text-anchor", "end")
      .text(p.legend.text);
  }
});
</script>
</body>
</html>
